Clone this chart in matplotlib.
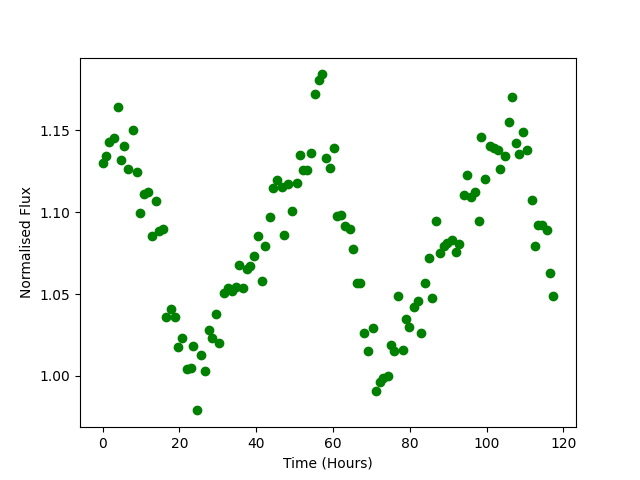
import numpy as np
import matplotlib
matplotlib.use('Agg')
import matplotlib.pyplot as plt

# Light curve values
time = [0.0, 0.8, 1.8, 2.9, 4.0, 4.7, 5.7, 6.7, 7.9, 8.9,
        9.7, 10.7, 11.8, 12.9, 13.8, 14.7, 15.7, 16.6, 17.8, 18.9,
        19.7, 20.7, 22.0, 23.0, 23.5, 24.6, 25.6, 26.7, 27.7, 28.4,
        29.5, 30.3, 31.6, 32.7, 33.8, 34.7, 35.5, 36.6, 37.6, 38.3,
        39.5, 40.5, 41.5, 42.3, 43.5, 44.3, 45.3, 46.6, 47.2, 48.3,
        49.4, 50.5, 51.4, 52.3, 53.3, 54.3, 55.4, 56.4, 57.2, 58.3,
        59.3, 60.3, 61.0, 62.2, 63.1, 64.3, 65.3, 66.2, 67.0, 68.1,
        69.2, 70.3, 71.1, 72.3, 73.1, 74.2, 75.0, 75.9, 77.0, 78.2,
        79.1, 79.9, 81.0, 82.1, 83.0, 84.0, 84.9, 85.9, 86.9, 87.9,
        88.8, 89.8, 90.9, 91.9, 92.9, 94.0, 94.8, 95.9, 96.9, 97.9,
        98.6, 99.7, 100.8, 101.8, 102.9, 103.6, 104.8, 105.7, 106.7, 107.7,
        108.5, 109.6, 110.6, 111.7, 112.7, 113.5, 114.5, 115.6, 116.6, 117.4]
flux = [1.130, 1.134, 1.143, 1.1455, 1.164, 1.1315, 1.1405, 1.126, 1.150, 1.1245,
        1.0995, 1.111, 1.1125, 1.0855, 1.107, 1.0885, 1.0895, 1.036, 1.041, 1.036,
        1.0175, 1.023, 1.004, 1.005, 1.018, 0.979, 1.0125, 1.003, 1.028, 1.023,
        1.038, 1.020, 1.0505, 1.0535, 1.052, 1.054, 1.0675, 1.0535, 1.065, 1.067,
        1.073, 1.0855, 1.058, 1.079, 1.097, 1.1145, 1.1195, 1.1155, 1.086, 1.117,
        1.1005, 1.118, 1.135, 1.1255, 1.1255, 1.136, 1.172, 1.1805, 1.184, 1.133,
        1.127, 1.139, 1.0975, 1.098, 1.0915, 1.0895, 1.0775, 1.057, 1.057, 1.0265,
        1.015, 1.029, 0.991, 0.9965, 0.9985, 1.000, 1.019, 1.0155, 1.049, 1.016,
        1.035, 1.030, 1.042, 1.046, 1.0265, 1.057, 1.072, 1.0475, 1.0945, 1.075,
        1.079, 1.081, 1.083, 1.0755, 1.0805, 1.1105, 1.1225, 1.109, 1.1125, 1.0945,
        1.146, 1.120, 1.1405, 1.139, 1.138, 1.1265, 1.134, 1.155, 1.1705, 1.142,
        1.1355, 1.149, 1.138, 1.1075, 1.079, 1.092, 1.092, 1.089, 1.063, 1.049]

plt.figure(figsize=(6.4, 4.8), dpi=100)
plt.plot(time, flux, 'go')
plt.xlabel('Time (Hours)')
plt.ylabel('Normalised Flux')
plt.savefig('out.png')
